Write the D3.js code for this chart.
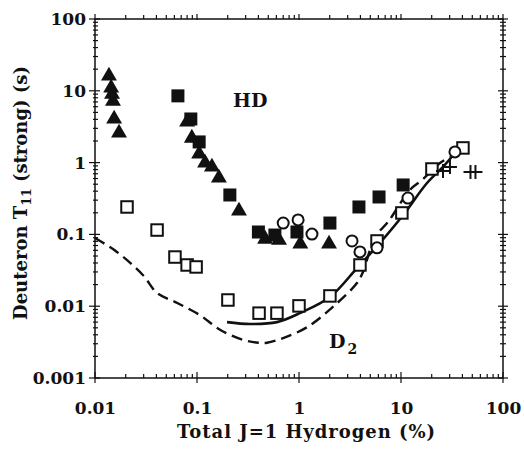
<!DOCTYPE html>
<html><head><meta charset="utf-8">
<script src="https://cdn.jsdelivr.net/npm/d3@7"></script>
<style>body{margin:0;background:#fff}svg{display:block}text{font-family:"DejaVu Serif",serif;font-weight:bold;fill:#111}</style>
</head><body>
<svg id="c" width="524" height="449"></svg>
<script>
// ---- data ----
const xTickValues = [0.01, 0.1, 1, 10, 100];
const xTickLabels = ["0.01", "0.1", "1", "10", "100"];
const yTickValues = [0.001, 0.01, 0.1, 1, 10, 100];
const yTickLabels = ["0.001", "0.01", "0.1", "1", "10", "100"];

const filledTriangles = [[0.0137,16.6],[0.0144,11.3],[0.0147,9.3],[0.0150,7.4],[0.0154,4.2],[0.0172,2.67],
  [0.080,3.8],[0.089,2.27],[0.105,1.36],[0.120,1.02],[0.140,0.90],[0.164,0.63],[0.258,0.219],
  [0.465,0.089],[0.637,0.086],[1.03,0.076],[1.97,0.076]];
const filledSquares = [[0.065,8.5],[0.087,4.05],[0.105,1.94],[0.21,0.354],[0.40,0.108],[0.58,0.098],
  [0.955,0.108],[2.01,0.144],[3.87,0.241],[6.09,0.332],[10.5,0.488]];
const openSquares = [[0.0206,0.241],[0.0406,0.115],[0.0608,0.0484],[0.080,0.0375],[0.098,0.0352],
  [0.201,0.0122],[0.406,0.0080],[0.608,0.0080],[1.0,0.0101],[2.01,0.0139],[3.96,0.0375],[5.82,0.081],
  [10.2,0.199],[20.1,0.815],[40.5,1.60]];
const openCircles = [[0.70,0.144],[0.98,0.159],[1.34,0.101],[3.31,0.081],[3.96,0.057],[5.82,0.065],
  [11.7,0.321],[33.8,1.41]];
const crosses = [[25.8,0.764],[30.2,0.869],[48.0,0.74],[53.7,0.74]];
const solidCurve = [[0.197,0.0060],[0.331,0.00565],[0.608,0.0060],[1.02,0.0080],[2.01,0.0134],
  [3.70,0.034],[4.64,0.048],[6.22,0.076],[10.5,0.186],[18.0,0.52],[25.8,0.87],[33.8,1.36]];
const dashedCurve = [[0.01,0.089],[0.0164,0.057],[0.0296,0.027],[0.0406,0.0153],[0.064,0.0111],
  [0.107,0.0075],[0.168,0.0047],[0.283,0.0034],[0.40,0.0031],[0.485,0.0031],[0.70,0.0036],
  [1.2,0.0051],[2.15,0.0098],[3.7,0.021],[4.24,0.030],[5.56,0.092],[7.46,0.149],[12.2,0.415],
  [16.1,0.573],[24.1,0.986],[30.2,1.2]];

// ---- layout ----
const L = 95, R = 503, T = 19, B = 378;
const svg = d3.select("#c");
const x = d3.scaleLog().domain([0.01, 100]).range([L, R]);
const y = d3.scaleLog().domain([0.001, 100]).range([B, T]);

function minors(lo, hi) {
  const out = [];
  for (let e = Math.round(Math.log10(lo)); e < Math.round(Math.log10(hi)); e++)
    for (let k = 2; k <= 9; k++) out.push(k * Math.pow(10, e));
  return out;
}
const xMinor = minors(0.01, 100), yMinor = minors(0.001, 100);

const ax = svg.append("g").attr("stroke", "#111").attr("fill", "none");
ax.append("rect").attr("x", L).attr("y", T).attr("width", R - L).attr("height", B - T).attr("stroke-width", 1.5);

const gB = svg.append("g").attr("transform", `translate(0,${B})`)
  .call(d3.axisBottom(x).tickValues(xTickValues).tickFormat((d, i) => xTickLabels[i]).tickSize(0).tickPadding(24));
gB.select(".domain").remove();
gB.selectAll("text").attr("font-size", 17).attr("font-family", "DejaVu Serif").attr("font-weight", "bold").attr("fill", "#111");
const gL = svg.append("g").attr("transform", `translate(${L},0)`)
  .call(d3.axisLeft(y).tickValues(yTickValues).tickFormat((d, i) => yTickLabels[i]).tickSize(0).tickPadding(9));
gL.select(".domain").remove();
gL.selectAll("text").attr("font-size", 17).attr("font-family", "DejaVu Serif").attr("font-weight", "bold").attr("fill", "#111");

const tk = ax.append("g").attr("stroke-width", 1.2);
xTickValues.forEach(v => {
  tk.append("line").attr("x1", x(v)).attr("x2", x(v)).attr("y1", B - 6).attr("y2", B + 5);
  tk.append("line").attr("x1", x(v)).attr("x2", x(v)).attr("y1", T - 5).attr("y2", T + 1);
});
xMinor.forEach(v => {
  tk.append("line").attr("x1", x(v)).attr("x2", x(v)).attr("y1", B - 4).attr("y2", B);
  tk.append("line").attr("x1", x(v)).attr("x2", x(v)).attr("y1", T - 4).attr("y2", T);
});
yTickValues.forEach(v => {
  tk.append("line").attr("y1", y(v)).attr("y2", y(v)).attr("x1", L - 6).attr("x2", L + 5);
  tk.append("line").attr("y1", y(v)).attr("y2", y(v)).attr("x1", R - 5).attr("x2", R + 5);
});
yMinor.forEach(v => {
  tk.append("line").attr("y1", y(v)).attr("y2", y(v)).attr("x1", L - 2).attr("x2", L + 3);
  tk.append("line").attr("y1", y(v)).attr("y2", y(v)).attr("x1", R - 3).attr("x2", R + 3);
});

const line = d3.line().x(d => x(d[0])).y(d => y(d[1])).curve(d3.curveCatmullRom.alpha(0.5));
svg.append("path").datum(dashedCurve).attr("d", line).attr("fill", "none").attr("stroke", "#111")
  .attr("stroke-width", 2.4).attr("stroke-dasharray", "11,6");
svg.append("path").datum(solidCurve).attr("d", line).attr("fill", "none").attr("stroke", "#111")
  .attr("stroke-width", 2.6);

const sq = 11.5;
svg.append("g").selectAll("rect").data(filledSquares).join("rect")
  .attr("x", d => x(d[0]) - 6.5).attr("y", d => y(d[1]) - 6.5).attr("width", 13).attr("height", 13).attr("fill", "#111");
const tri = d3.symbol().type(d3.symbolTriangle).size(110);
svg.append("g").selectAll("path").data(filledTriangles).join("path")
  .attr("d", tri).attr("transform", d => `translate(${x(d[0])},${y(d[1]) + 1})`).attr("fill", "#111");
svg.append("g").selectAll("rect").data(openSquares).join("rect")
  .attr("x", d => x(d[0]) - sq / 2).attr("y", d => y(d[1]) - sq / 2).attr("width", sq).attr("height", sq)
  .attr("fill", "#fff").attr("stroke", "#111").attr("stroke-width", 2);
svg.append("g").selectAll("circle").data(openCircles).join("circle")
  .attr("cx", d => x(d[0])).attr("cy", d => y(d[1])).attr("r", 5.5)
  .attr("fill", "#fff").attr("stroke", "#111").attr("stroke-width", 2);
const cr = svg.append("g").attr("stroke", "#111").attr("stroke-width", 2);
crosses.forEach(d => {
  cr.append("line").attr("x1", x(d[0]) - 7).attr("x2", x(d[0]) + 7).attr("y1", y(d[1])).attr("y2", y(d[1]));
  cr.append("line").attr("x1", x(d[0])).attr("x2", x(d[0])).attr("y1", y(d[1]) - 7).attr("y2", y(d[1]) + 7);
});

svg.append("text").attr("x", 233).attr("y", 107).attr("font-size", 19).text("HD");
const d2 = svg.append("text").attr("x", 329).attr("y", 348).attr("font-size", 19);
d2.append("tspan").text("D");
d2.append("tspan").attr("font-size", 14).attr("dy", 6).attr("dx", 2).text("2");

svg.append("text").attr("x", 306).attr("y", 438).attr("text-anchor", "middle").attr("font-size", 18)
  .attr("textLength", 258).attr("lengthAdjust", "spacing")
  .text("Total J=1 Hydrogen (%)");
const yt = svg.append("text").attr("transform", "translate(27,193) rotate(-90)").attr("text-anchor", "middle").attr("font-size", 18);
yt.append("tspan").text("Deuteron T");
yt.append("tspan").attr("font-size", 12.5).attr("dy", 4).text("11");
yt.append("tspan").attr("dy", -4).text(" (strong) (s)");
</script>
</body></html>
